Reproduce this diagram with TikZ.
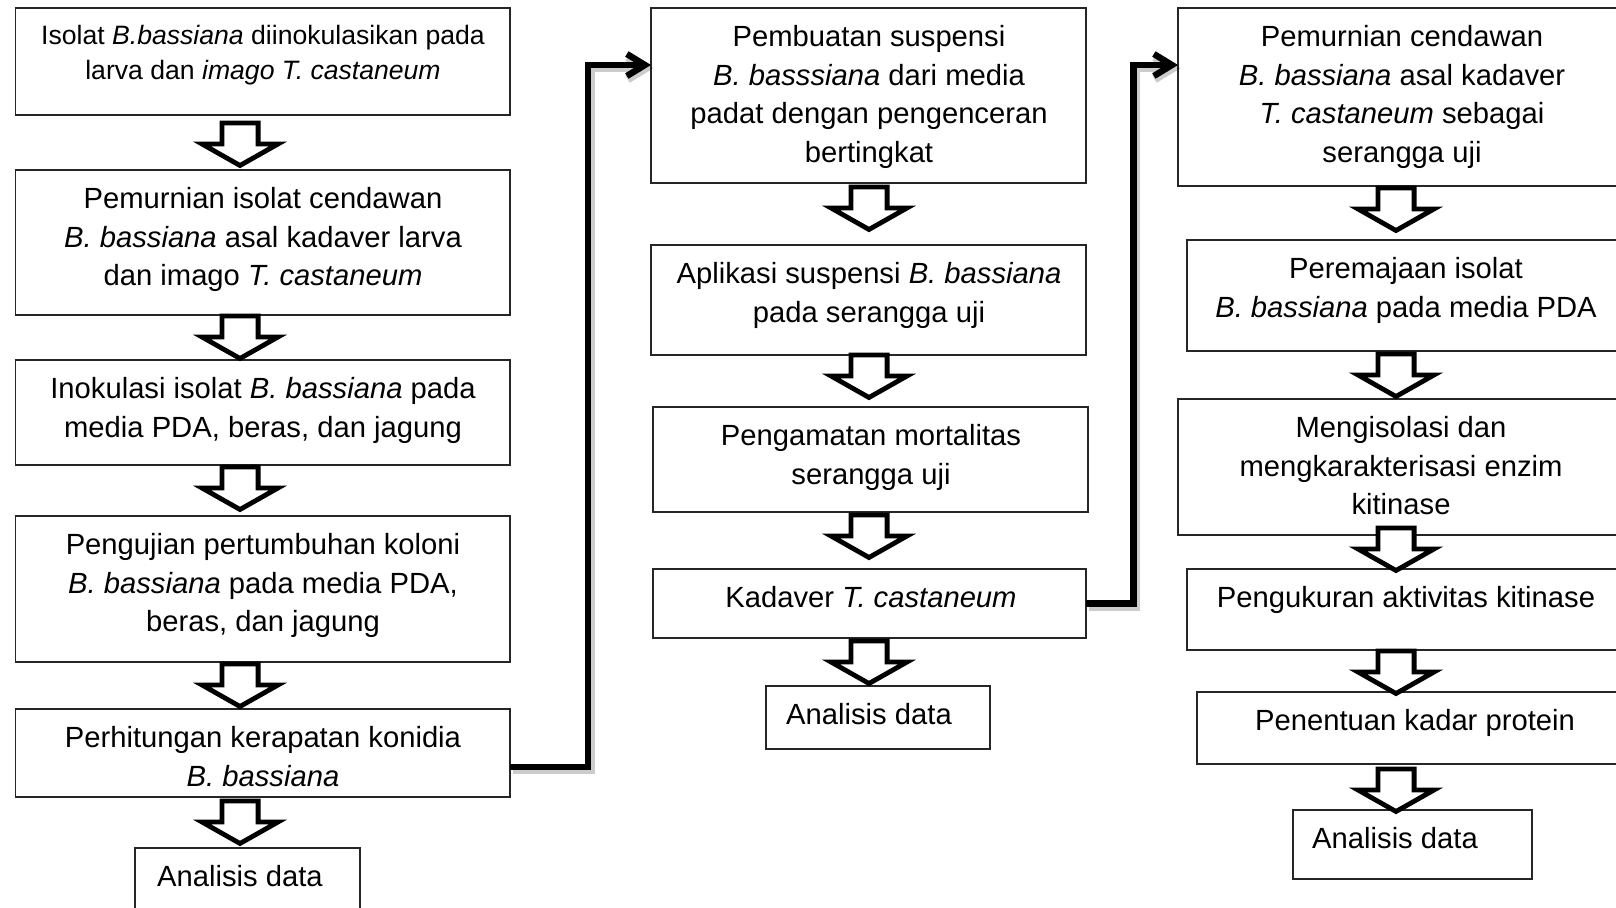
\documentclass[tikz,border=0pt]{standalone}
\usepackage{fontspec}
\setmainfont{Liberation Sans}
\usetikzlibrary{arrows.meta,calc}
\tikzset{
  boxsty/.style={draw=black!85, line width=0.7pt, inner sep=0pt, outer sep=0pt},
  txt/.style={align=center, inner sep=0pt, font=\fontsize{14.6pt}{19.3pt}\selectfont},
  txtsmall/.style={align=center, inner sep=0pt, font=\fontsize{13.3pt}{17.5pt}\selectfont},
  blockarrow/.style={draw=black, fill=white, line width=2.4pt, line join=miter},
  conn/.style={draw=black, line width=3.2pt, -{Straight Barb[length=9pt,width=11pt]}},
  connshadow/.style={draw=black, opacity=0.2, line width=4.2pt, -{Straight Barb[length=9pt,width=11pt]}},
  downarrow/.pic={\path[blockarrow] (-18.1,-2) -- (18.1,-2) -- (18.1,-23) -- (38,-23) -- (0,-44.5) -- (-38,-23) -- (-18.1,-23) -- cycle;}
}
\newcommand\flowstep[8][txt]{%
  \node[boxsty, anchor=north west, minimum width={(#5-#3)*0.5pt}, minimum height={(#6-#4)*0.5pt}] (#2) at (#3,-#4) {};
  \node[#1, anchor=north] (#2t) at (#7,-#4-17) {#8};
}
\begin{document}
\begin{tikzpicture}[x=0.5pt,y=0.5pt]
\useasboundingbox (0,0) rectangle (1616,-908);
\clip (0,0) rectangle (1616,-908);
% column 1
\flowstep[txtsmall]{b1}{15.5}{8}{510}{115}{263}{Isolat \textit{B.bassiana} diinokulasikan pada\\larva dan \textit{imago T. castaneum}}
\flowstep{b2}{15.5}{170}{510}{315}{263}{Pemurnian isolat cendawan\\\textit{B. bassiana} asal kadaver larva\\dan imago \textit{T. castaneum}}
\flowstep{b3}{15.5}{360}{510}{465}{263}{Inokulasi isolat \textit{B. bassiana} pada\\media PDA, beras, dan jagung}
\flowstep{b4}{15.5}{516}{510}{662}{263}{Pengujian pertumbuhan koloni\\\textit{B. bassiana} pada media PDA,\\beras, dan jagung}
\flowstep{b5}{15.5}{709}{510}{797}{263}{Perhitungan kerapatan konidia\\\textit{B. bassiana}}
\flowstep{an1}{135}{848}{360}{915}{240}{Analisis data}
% column 2
\flowstep{bA}{651}{8}{1086}{183}{869}{Pembuatan suspensi\\\textit{B. basssiana} dari media\\padat dengan pengenceran\\bertingkat}
\flowstep{bB}{651}{245}{1086}{355}{869}{Aplikasi suspensi \textit{B. bassiana}\\pada serangga uji}
\flowstep{bC}{653}{407}{1088}{512}{871}{Pengamatan mortalitas\\serangga uji}
\flowstep{bD}{653}{569}{1086}{638}{871}{Kadaver \textit{T. castaneum}}
\flowstep{an2}{766}{686}{990}{749}{869}{Analisis data}
% column 3
\flowstep{bE}{1178}{8}{1625}{186}{1402}{Pemurnian cendawan\\\textit{B. bassiana} asal kadaver\\\textit{T. castaneum} sebagai\\serangga uji}
\flowstep{bF}{1187}{240}{1625}{351}{1406}{Peremajaan isolat\\\textit{B. bassiana} pada media PDA}
\flowstep{bG}{1178}{399}{1625}{535}{1401}{Mengisolasi dan\\mengkarakterisasi enzim\\kitinase}
\flowstep{bH}{1187}{569}{1625}{650}{1406}{Pengukuran aktivitas kitinase}
\flowstep{bI}{1197}{692}{1633}{764}{1415}{Penentuan kadar protein}
\flowstep{an3}{1293}{810}{1532}{879}{1395}{Analisis data}
% column axes for the block arrows
\coordinate (col1) at (240,0);
\coordinate (col2) at (869,0);
\coordinate (col3) at (1396,0);
% block arrows
\pic at ($(b1.south -| col1)+(0,-6)$) {downarrow};
\pic at ($(b2.south -| col1)+(0,1)$) {downarrow};
\pic at ($(b3.south -| col1)+(0,0)$) {downarrow};
\pic at ($(b4.south -| col1)+(0,0)$) {downarrow};
\pic at ($(b5.south -| col1)+(0,-2)$) {downarrow};
\pic at ($(bA.south -| col2)+(0,-2)$) {downarrow};
\pic at ($(bB.south -| col2)+(0,2)$) {downarrow};
\pic at ($(bC.south -| col2)+(0,-1)$) {downarrow};
\pic at ($(bD.south -| col2)+(0,-1)$) {downarrow};
\pic at ($(bE.south -| col3)+(0,0)$) {downarrow};
\pic at ($(bF.south -| col3)+(0,-1)$) {downarrow};
\pic at ($(bG.south -| col3)+(0,9)$) {downarrow};
\pic at ($(bH.south -| col3)+(0,1)$) {downarrow};
\pic at ($(bI.south -| col3)+(0,-3)$) {downarrow};
% connectors
\coordinate (c1s) at ($(b5.east)+(0,-14)$);
\coordinate (c1e) at ($(bA.west)+(0,30.5)$);
\coordinate (j1) at (588,0);
\coordinate (c2s) at (bD.east);
\coordinate (c2e) at ($(bE.west)+(0,32)$);
\coordinate (j2) at (1133.5,0);
\begin{scope}[transform canvas={shift={(1.3pt,-1.6pt)}}]
\draw[connshadow] (c1s) -| (j1 |- c1e) -- (c1e);
\draw[connshadow] (c2s) -| (j2 |- c2e) -- (c2e);
\end{scope}
\draw[conn] (c1s) -| (j1 |- c1e) -- (c1e);
\draw[conn] (c2s) -| (j2 |- c2e) -- (c2e);
\end{tikzpicture}
\end{document}
